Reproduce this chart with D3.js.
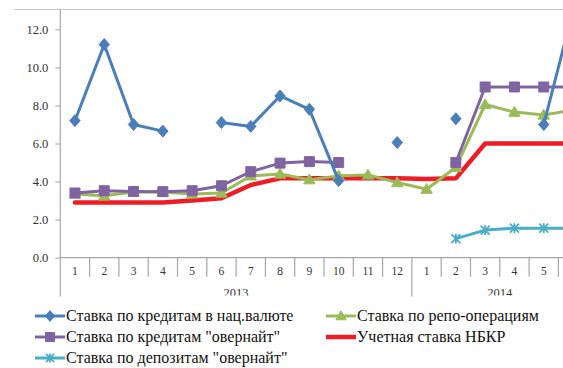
<!DOCTYPE html>
<html><head><meta charset="utf-8">
<script src="https://cdn.jsdelivr.net/npm/d3@7"></script>
<style>
html,body{margin:0;padding:0;background:#fff;}
svg{display:block;}
</style></head>
<body><svg id="c" width="563" height="368"></svg>
<script>
// ---- data ----
const months = ["1","2","3","4","5","6","7","8","9","10","11","12","1","2","3","4","5","6"];
const years = [{label:"2013", from:0, to:12},{label:"2014", from:12, to:18}];
const yTicks = [0,2,4,6,8,10,12];
const loansNat   = [7.2,11.2,7.0,6.65,null,7.1,6.9,8.5,7.8,4.05,null,6.05,null,7.3,null,null,7.0,13.0];
const repo       = [3.35,3.25,3.45,3.45,3.35,3.4,4.3,4.4,4.1,4.3,4.35,3.95,3.6,4.75,8.05,7.65,7.5,7.75];
const overnight  = [3.4,3.52,3.48,3.47,3.52,3.78,4.52,4.97,5.05,5.0,null,null,null,5.0,8.97,8.97,8.97,8.97];
const discount   = [2.9,2.9,2.9,2.9,3.0,3.12,3.82,4.17,4.17,4.17,4.17,4.17,4.13,4.17,6.0,6.0,6.0,6.0];
const depOver    = [null,null,null,null,null,null,null,null,null,null,null,null,null,1.0,1.45,1.55,1.55,1.55];

const series = [
  {name:"Ставка по кредитам в нац.валюте", values:loansNat, color:"#4A7EBB", width:3, marker:"diamond"},
  {name:"Ставка по репо-операциям", values:repo, color:"#9BBB59", width:3, marker:"triangle"},
  {name:"Ставка по кредитам \"овернайт\"", values:overnight, color:"#8064A2", width:3, marker:"square"},
  {name:"Учетная ставка НБКР", values:discount, color:"#EE1C24", width:4.5, marker:null},
  {name:"Ставка по депозитам \"овернайт\"", values:depOver, color:"#4BACC6", width:3, marker:"star"}
];
const drawOrder = [3,1,2,0,4];
const legendPos = [[0,0],[1,0],[0,1],[1,1],[0,2]];

// ---- layout ----
const W = 563;
const FF = '"Liberation Serif"';
const svg = d3.select("#c");
const x0 = 60.3, step = 29.3;
const x = d3.scaleBand().domain(d3.range(months.length)).range([x0, x0 + step*months.length]).paddingInner(0).paddingOuter(0);
const y = d3.scaleLinear().domain([0,13]).range([257.7, 10.3]);
const axisCol = "#A6A6A6", textCol = "#333";

svg.append("line").attr("x1",14).attr("x2",W).attr("y1",9.5).attr("y2",9.5).attr("stroke","#C8C8C8").attr("stroke-width",1);

const yAxis = d3.axisLeft(y).tickValues(yTicks).tickFormat(d3.format(".1f")).tickSize(5).tickPadding(7);
const gy = svg.append("g").attr("transform",`translate(${x0},0)`).call(yAxis);
gy.select(".domain").remove();
gy.selectAll(".tick line").attr("stroke",axisCol);
gy.selectAll(".tick text").attr("fill",textCol).style("font-family",FF).style("font-size","12.5px");
svg.append("line").attr("x1",x0).attr("x2",x0).attr("y1",9.5).attr("y2",296.5).attr("stroke",axisCol).attr("stroke-width",1.2);

svg.append("line").attr("x1",x0).attr("x2",W).attr("y1",y(0)).attr("y2",y(0)).attr("stroke",axisCol).attr("stroke-width",1.2);
const seps = d3.range(1, months.length+1);
svg.selectAll(".msep").data(seps).enter().append("line")
  .attr("x1",d=>x0+step*d).attr("x2",d=>x0+step*d)
  .attr("y1",y(0)).attr("y2",d=> years.some(g=>g.to===d && g.to<months.length) ? 296.5 : 276.7)
  .attr("stroke",axisCol).attr("stroke-width",1.2);
svg.selectAll(".mlab").data(months.map((m,i)=>({m,i})).filter(d=>x(d.i)+x.bandwidth()/2 < W-6)).enter().append("text")
  .attr("x",d=>x(d.i)+x.bandwidth()/2).attr("y",275)
  .attr("text-anchor","middle").attr("fill",textCol).style("font-family",FF).style("font-size","11.5px").text(d=>d.m);
svg.append("clipPath").attr("id","yc").append("rect").attr("x",0).attr("y",250).attr("width",W).attr("height",45.5);
svg.append("g").attr("clip-path","url(#yc)").selectAll("text").data(years).enter().append("text")
  .attr("x",d=>(x0+step*d.from + x0+step*d.to)/2).attr("y",297)
  .attr("text-anchor","middle").attr("fill",textCol).style("font-family",FF).style("font-size","12.5px").text(d=>d.label);

function markerPath(type, s){
  switch(type){
    case "diamond": return `M0,${-s*1.15}L${s},0L0,${s*1.15}L${-s},0Z`;
    case "square": return `M${-s},${-s}H${s}V${s}H${-s}Z`;
    case "triangle": return `M0,${-s*1.1}L${s*1.1},${s*0.8}L${-s*1.1},${s*0.8}Z`;
    case "star": return `M${-s},${-s}L${s},${s}M${-s},${s}L${s},${-s}M0,${-s*1.1}V${s*1.1}`;
  }
  return "";
}
const msize = {diamond:5.2, square:5, triangle:5.2, star:4.5};

const plot = svg.append("g");
drawOrder.forEach(si=>{
  const s = series[si];
  const line = d3.line().defined(d=>d!=null).x((d,i)=>x(i)+x.bandwidth()/2).y(d=>y(d));
  plot.append("path").datum(s.values).attr("d",line).attr("fill","none")
    .attr("stroke",s.color).attr("stroke-width",s.width).attr("stroke-linejoin","round").attr("stroke-linecap","round");
  if(s.marker){
    plot.selectAll(null).data(s.values.map((v,i)=>({v,i})).filter(d=>d.v!=null)).enter().append("path")
      .attr("transform",d=>`translate(${x(d.i)+x.bandwidth()/2},${y(d.v)})`)
      .attr("d",markerPath(s.marker,msize[s.marker]))
      .attr("fill",s.marker==="star"?"none":s.color)
      .attr("stroke",s.color).attr("stroke-width",s.marker==="star"?1.8:1);
  }
});

const colX = [35, 326], rowY = [316, 337, 358];
const lg = svg.append("g");
series.forEach((s,i)=>{
  const [c,r] = legendPos[i];
  const g = lg.append("g").attr("transform",`translate(${colX[c]},${rowY[r]})`);
  g.append("line").attr("x1",0).attr("x2",30).attr("y1",0).attr("y2",0).attr("stroke",s.color).attr("stroke-width",s.width);
  if(s.marker){
    g.append("path").attr("transform","translate(15,0)").attr("d",markerPath(s.marker,msize[s.marker]*0.9))
      .attr("fill",s.marker==="star"?"none":s.color).attr("stroke",s.color).attr("stroke-width",s.marker==="star"?1.8:1);
  }
  g.append("text").attr("x",31).attr("y",5).attr("fill","#111").style("font-family",FF).style("font-size","16px").text(s.name);
});
</script></body></html>
